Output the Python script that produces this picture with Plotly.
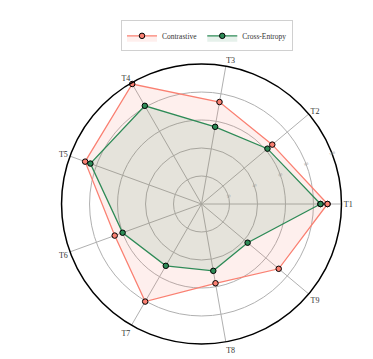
import plotly.graph_objects as go

categories = ["T1", "T2", "T3", "T4", "T5", "T6", "T7", "T8", "T9"]
contrastive = [90, 66, 74, 99, 88.5, 66, 80.5, 57.5, 72]
cross_entropy = [85, 61.5, 56, 81, 84.5, 60, 51, 48.5, 43]
radial_ticks = [20, 40, 60, 80, 100]

def closed(vals):
    return list(vals) + [vals[0]]

fig = go.Figure()
fig.add_trace(go.Scatterpolar(
    r=closed(contrastive), theta=closed(categories), name="Contrastive",
    mode="lines+markers", fill="toself", fillcolor="rgba(250,128,114,0.13)",
    line=dict(color="#FA8072", width=1.3),
    marker=dict(size=5.5, color="#FA8072", line=dict(color="black", width=1)),
))
fig.add_trace(go.Scatterpolar(
    r=closed(cross_entropy), theta=closed(categories), name="Cross-Entropy",
    mode="lines+markers", fill="toself", fillcolor="rgba(46,139,87,0.12)",
    line=dict(color="#2E8B57", width=1.3),
    marker=dict(size=5.5, color="#2E8B57", line=dict(color="black", width=1)),
))

fig.update_layout(
    width=373, height=359,
    margin=dict(l=0, r=0, t=0, b=0),
    paper_bgcolor="white",
    font=dict(family="Liberation Serif", color="#333333"),
    showlegend=True,
    legend=dict(orientation="h", x=0.555, xanchor="center", y=0.857, yanchor="bottom",
                bordercolor="#d0d0d0", borderwidth=1, font=dict(size=7.5, color="#333333"),
                tracegroupgap=0),
    polar=dict(
        domain=dict(x=[0.165, 0.9155], y=[0.0418, 0.8217]),
        bgcolor="white",
        angularaxis=dict(direction="counterclockwise", rotation=0,
                         categoryorder="array", categoryarray=categories,
                         linecolor="black", linewidth=1.5, gridcolor="#b0b0b0",
                         gridwidth=1, tickfont=dict(size=8, color="#333333"),
                         ticks=""),
        radialaxis=dict(range=[0, 100], tickvals=radial_ticks,
                        ticktext=[str(v) for v in radial_ticks],
                        angle=22.5, showline=False, gridcolor="#b0b0b0",
                        gridwidth=1, ticks="",
                        tickfont=dict(size=4, color="#999999")),
    ),
)

fig.write_html("out.html")
